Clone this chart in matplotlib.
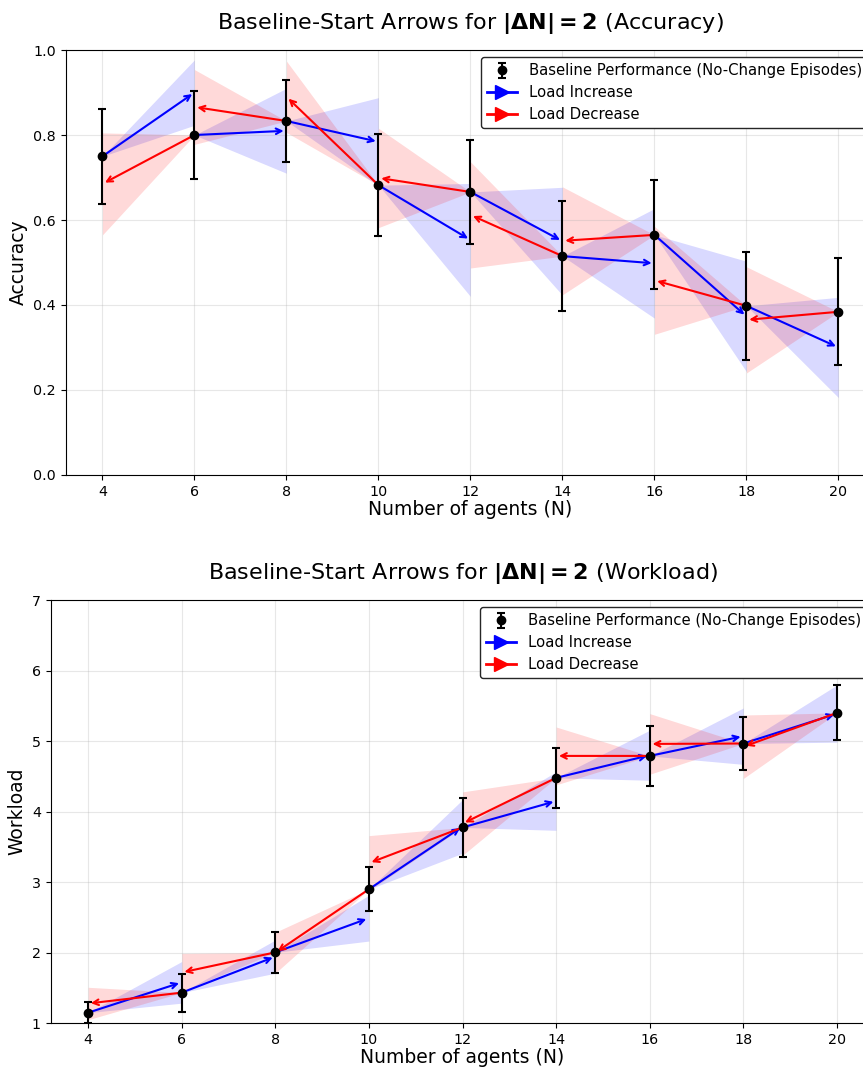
import matplotlib
matplotlib.use('Agg')
import matplotlib.pyplot as plt
from matplotlib.lines import Line2D

# Number of agents
agents = [4, 6, 8, 10, 12, 14, 16, 18, 20]

# Accuracy: baseline (no-change episodes) mean and error
acc_base = [0.750, 0.800, 0.833, 0.682, 0.666, 0.515, 0.565, 0.398, 0.384]
acc_base_err = [0.112, 0.104, 0.097, 0.120, 0.122, 0.130, 0.128, 0.127, 0.126]
# Load increase: N -> N+2 (one value per step, starting at N=4)
acc_inc = [0.900, 0.810, 0.784, 0.553, 0.550, 0.498, 0.373, 0.300]
acc_inc_err = [0.077, 0.100, 0.104, 0.133, 0.127, 0.129, 0.130, 0.118]
# Load decrease: N -> N-2 (one value per step, ending at N=4)
acc_dec = [0.685, 0.866, 0.890, 0.699, 0.612, 0.551, 0.458, 0.365]
acc_dec_err = [0.120, 0.088, 0.084, 0.117, 0.125, 0.127, 0.127, 0.125]

# Workload
wl_base = [1.15, 1.434, 2.005, 2.90, 3.776, 4.479, 4.79, 4.966, 5.40]
wl_base_err = [0.15, 0.27, 0.288, 0.31, 0.42, 0.43, 0.42, 0.38, 0.39]
wl_inc = [1.58, 1.945, 2.49, 3.79, 4.15, 4.80, 5.07, 5.39]
wl_inc_err = [0.295, 0.235, 0.325, 0.38, 0.415, 0.355, 0.40, 0.405]
wl_dec = [1.28, 1.72, 2.00, 3.27, 3.83, 4.79, 4.96, 4.92]
wl_dec_err = [0.23, 0.27, 0.29, 0.39, 0.45, 0.41, 0.43, 0.45]


def draw_panel(ax, base, base_err, inc, inc_err, dec, dec_err, metric):
    """Draw baseline points plus arrows to the changed-load results"""
    for i in range(len(agents) - 1):
        n0, n1 = agents[i], agents[i + 1]

        # Load increase: start at baseline of n0, arrow to n1
        ax.fill_between([n0, n1], [base[i], inc[i] - inc_err[i]],
                        [base[i], inc[i] + inc_err[i]],
                        color='blue', alpha=0.15, linewidth=0, zorder=1)
        ax.annotate('', xy=(n1, inc[i]), xytext=(n0, base[i]),
                    arrowprops=dict(arrowstyle='->', color='blue', lw=1.5,
                                    shrinkA=0),
                    zorder=3)

        # Load decrease: start at baseline of n1, arrow to n0
        ax.fill_between([n0, n1], [dec[i] - dec_err[i], base[i + 1]],
                        [dec[i] + dec_err[i], base[i + 1]],
                        color='red', alpha=0.15, linewidth=0, zorder=1)
        ax.annotate('', xy=(n0, dec[i]), xytext=(n1, base[i + 1]),
                    arrowprops=dict(arrowstyle='->', color='red', lw=1.5,
                                    shrinkA=0),
                    zorder=3)

    eb = ax.errorbar(agents, base, yerr=base_err, fmt='o', color='black',
                     markersize=6, capsize=3, elinewidth=1.5, capthick=1.5,
                     zorder=5, label='Baseline Performance (No-Change Episodes)')

    # Legend proxies for the arrows
    inc_handle = Line2D([], [], color='blue', lw=2, marker='>', markersize=10,
                        label='Load Increase')
    dec_handle = Line2D([], [], color='red', lw=2, marker='>', markersize=10,
                        label='Load Decrease')
    leg = ax.legend(handles=[eb, inc_handle, dec_handle], loc='upper right',
                    fontsize=10.7, framealpha=1, edgecolor='0.15',
                    labelspacing=0.45)
    leg.get_frame().set_linewidth(1.0)

    ax.set_title(r'Baseline-Start Arrows for $\mathbf{|\Delta N| = 2}$ (' + metric + ')',
                 fontsize=16, pad=15)
    ax.set_xlabel('Number of agents (N)', fontsize=13.5, labelpad=1)
    ax.set_ylabel(metric, fontsize=13.5)
    ax.set_xticks(agents)
    ax.set_xlim(3.2, 20.8)
    ax.tick_params(labelsize=10.3)
    ax.grid(True, alpha=0.3)


fig = plt.figure(figsize=(8.63, 10.69), dpi=100)

# Panels run past the right edge, as in the (cropped) original
ax_acc = fig.add_axes([0.0761, 0.5557, 0.9381, 0.3975])
ax_wl = fig.add_axes([0.0587, 0.0428, 0.9545, 0.3959])

draw_panel(ax_acc, acc_base, acc_base_err, acc_inc, acc_inc_err,
           acc_dec, acc_dec_err, 'Accuracy')
ax_acc.set_ylim(0, 1)

draw_panel(ax_wl, wl_base, wl_base_err, wl_inc, wl_inc_err,
           wl_dec, wl_dec_err, 'Workload')
ax_wl.set_ylim(1, 7)

fig.savefig('out.png', dpi=100)
